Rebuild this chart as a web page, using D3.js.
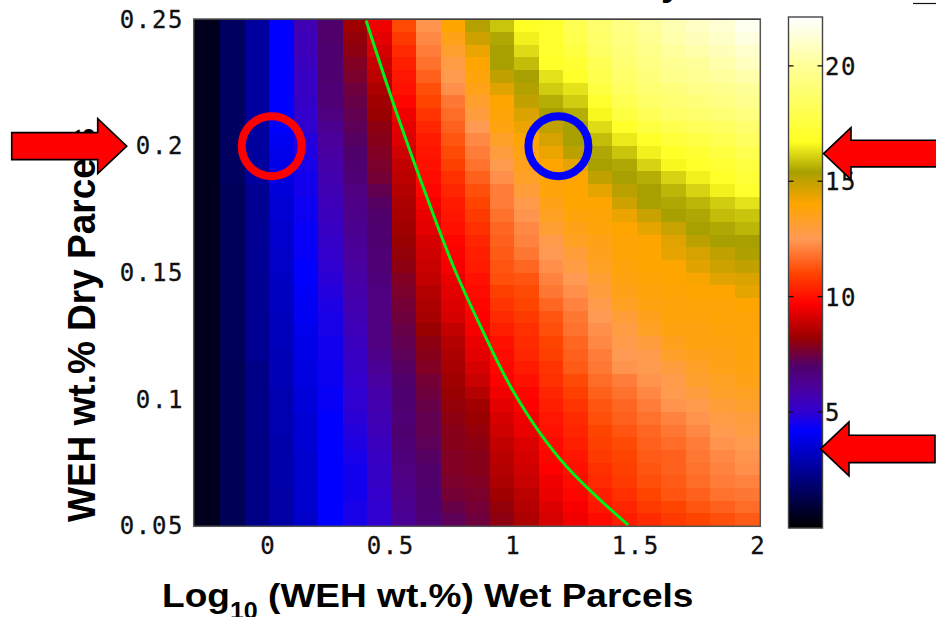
<!DOCTYPE html>
<html><head><meta charset="utf-8">
<script src="https://cdn.jsdelivr.net/npm/d3@7"></script>
<style>html,body{margin:0;padding:0;background:#fff}svg{display:block}</style>
</head><body><svg id="c" width="936" height="617"></svg>
<script>
const xTicks = [0, 0.5, 1, 1.5, 2];
const yTicks = [0.05, 0.1, 0.15, 0.2, 0.25];
const barTicks = [5, 10, 15, 20];
const xEdgeStart = -0.3, xEdgeStep = 0.1;
const yEdgeTop = 0.25, yEdgeStep = 0.005;
const colorStops = [0, 4.2, 5, 6, 7, 8.2, 9.7, 11, 12.5, 14, 15.4, 16.7, 20, 22.1];
const colorValues = ["#000000","#0000ff","#3000d0","#4a00a0","#50006a","#990000","#ff0000","#ff4400","#ff9a55","#ffa500","#a8a000","#ffff22","#ffff99","#ffffff"];
// rows run from y = 0.25 (top) down to y = 0.05; columns from x = -0.3 to x = 2
const cellValues = [
[.5,1.6,2.6,4.2,5.6,7.0,8.3,9.5,11.1,12.4,14.0,15.2,15.9,16.8,17.0,18.0,18.8,19.4,20.0,20.5,20.9,21.2,21.8],
[.5,1.6,2.6,4.2,5.5,7.0,8.1,9.3,10.8,12.2,13.6,14.8,15.5,16.5,17.0,17.9,18.7,19.3,19.8,20.4,20.7,21.0,21.5],
[.5,1.6,2.6,4.2,5.5,6.9,8.0,9.1,10.5,12.0,13.2,14.3,15.4,16.2,17.0,17.6,18.5,19.1,19.6,20.1,20.4,20.7,21.1],
[.5,1.6,2.6,4.2,5.4,6.9,7.8,8.9,10.3,11.8,12.8,14.0,15.4,15.8,16.9,17.2,18.1,18.9,19.4,19.8,20.0,20.4,20.8],
[.5,1.6,2.6,4.2,5.3,6.9,7.7,8.7,10.1,11.5,12.6,13.8,15.0,15.4,16.3,16.9,17.9,18.7,19.2,19.6,19.8,20.1,20.4],
[.5,1.6,2.6,4.2,5.3,6.8,7.5,8.5,10.0,11.2,12.3,13.6,14.5,15.2,16.0,16.3,17.6,18.4,18.9,19.2,19.5,19.7,20.0],
[.5,1.6,2.6,4.2,5.2,6.8,7.4,8.3,9.8,11.0,11.9,13.2,14.0,15.0,15.6,16.0,17.0,18.0,18.6,18.9,19.1,19.4,19.7],
[.5,1.6,2.6,4.2,5.1,6.6,7.3,8.2,9.5,10.7,11.7,12.9,13.9,14.6,15.4,15.6,16.6,17.6,18.2,18.6,18.8,19.0,19.3],
[.5,1.6,2.6,4.2,5.0,6.3,7.2,8.0,9.3,10.4,11.5,12.5,13.7,14.3,15.0,15.4,16.2,16.9,17.6,17.9,18.2,18.4,18.8],
[.5,1.6,2.6,4.0,4.8,6.1,7.1,7.9,9.2,10.2,11.3,12.2,13.3,14.0,14.7,15.4,15.8,16.4,16.9,17.4,17.7,18.0,18.4],
[.5,1.6,2.6,3.9,4.7,6.0,7.0,7.8,9.0,10.1,11.1,12.0,12.9,13.7,14.3,15.1,15.5,15.9,16.5,16.9,17.2,17.6,18.0],
[.5,1.6,2.6,3.8,4.6,5.8,6.9,7.7,8.8,10.0,10.9,11.8,12.6,13.5,14.0,14.4,15.4,15.5,16.1,16.6,16.9,17.2,17.6],
[.5,1.6,2.6,3.7,4.5,5.7,6.8,7.6,8.7,9.9,10.6,11.5,12.3,13.3,13.9,14.0,15.0,15.4,15.6,16.1,16.5,16.9,17.3],
[.5,1.5,2.4,3.6,4.5,5.6,6.6,7.3,8.6,9.8,10.4,11.2,12.0,13.0,13.8,14.0,14.4,15.1,15.4,15.7,16.1,16.5,17.0],
[.5,1.5,2.4,3.5,4.4,5.5,6.5,7.1,8.5,9.6,10.2,11.0,12.0,12.7,13.6,14.0,14.0,14.8,15.4,15.5,15.7,16.0,16.3],
[.5,1.5,2.4,3.5,4.4,5.4,6.4,7.0,8.4,9.4,10.1,10.8,11.8,12.4,13.4,13.8,13.9,14.3,14.9,15.4,15.5,15.8,15.9],
[.5,1.5,2.4,3.4,4.3,5.3,6.3,6.9,8.3,9.3,10.0,10.6,11.6,12.2,13.1,13.6,13.8,14.0,14.4,14.9,15.4,15.5,15.7],
[.5,1.5,2.4,3.4,4.3,5.2,6.2,6.9,8.2,9.1,9.8,10.4,11.5,12.1,12.7,13.4,13.6,13.9,14.0,14.5,15.1,15.4,15.4],
[.5,1.5,2.4,3.3,4.3,5.1,6.1,6.8,8.1,9.0,9.7,10.3,11.4,11.9,12.5,13.0,13.5,13.9,14.0,14.4,14.7,15.0,15.3],
[.5,1.5,2.4,3.3,4.2,5.0,6.0,6.8,8.0,8.9,9.6,10.2,11.3,11.6,12.3,12.8,13.4,13.8,14.0,14.0,14.5,14.8,15.0],
[.5,1.5,2.4,3.2,4.2,4.9,5.9,6.7,7.8,8.8,9.4,10.0,11.2,11.3,12.1,12.5,13.1,13.7,13.9,14.0,14.1,14.5,14.6],
[.5,1.5,2.4,3.2,4.1,4.8,5.8,6.6,7.7,8.6,9.3,9.9,10.9,11.1,11.9,12.3,12.9,13.6,13.8,13.9,14.0,14.0,14.4],
[.5,1.5,2.4,3.2,4.0,4.7,5.7,6.6,7.6,8.5,9.2,9.8,10.7,11.0,11.6,12.1,12.7,13.4,13.7,13.8,13.9,13.9,14.0],
[.5,1.5,2.4,3.1,4.0,4.6,5.6,6.6,7.5,8.4,9.1,9.7,10.5,10.8,11.3,11.9,12.5,13.0,13.5,13.8,13.8,13.9,13.9],
[.5,1.5,2.4,3.1,3.9,4.6,5.5,6.6,7.4,8.2,8.8,9.6,10.3,10.6,11.2,11.8,12.3,12.8,13.4,13.7,13.7,13.8,13.9],
[.5,1.5,2.4,3.1,3.8,4.5,5.4,6.6,7.3,8.0,8.6,9.4,10.0,10.5,11.0,11.6,12.2,12.7,12.9,13.5,13.7,13.7,13.8],
[.5,1.5,2.4,3.0,3.8,4.5,5.3,6.4,7.2,7.9,8.5,9.3,9.9,10.4,10.9,11.5,12.0,12.5,12.7,13.3,13.5,13.6,13.8],
[.5,1.4,2.2,3.0,3.7,4.4,5.2,6.2,7.1,7.8,8.4,9.1,9.8,10.2,10.7,11.4,11.9,12.4,12.6,12.9,13.3,13.6,13.7],
[.5,1.4,2.2,3.0,3.7,4.4,5.1,6.0,7.0,7.6,8.3,8.9,9.7,10.0,10.6,11.1,11.7,12.0,12.4,12.7,13.2,13.4,13.6],
[.5,1.4,2.2,2.9,3.6,4.3,5.0,5.8,6.9,7.5,8.2,8.6,9.5,9.8,10.4,10.9,11.5,11.8,12.2,12.6,12.9,13.3,13.4],
[.5,1.4,2.2,2.9,3.6,4.3,5.0,5.7,6.9,7.4,8.1,8.3,9.3,9.7,10.3,10.7,11.3,11.6,12.0,12.4,12.7,13.0,13.2],
[.5,1.4,2.2,2.9,3.5,4.2,4.9,5.6,6.8,7.3,8.0,8.2,9.1,9.5,10.1,10.5,11.2,11.5,11.8,12.1,12.4,12.8,12.9],
[.5,1.4,2.2,2.9,3.5,4.2,4.8,5.5,6.9,7.3,7.9,8.1,9.0,9.4,10.0,10.4,11.0,11.3,11.6,11.9,12.2,12.6,12.8],
[.5,1.4,2.2,2.8,3.5,4.2,4.7,5.4,6.8,7.2,7.9,8.0,8.8,9.2,9.9,10.3,10.9,11.1,11.5,11.7,12.0,12.4,12.6],
[.5,1.4,2.2,2.8,3.4,4.2,4.6,5.3,6.7,7.1,7.8,7.9,8.7,9.1,9.8,10.1,10.8,11.0,11.4,11.5,11.9,12.2,12.4],
[.5,1.4,2.2,2.8,3.4,4.2,4.5,5.2,6.6,7.0,7.8,7.9,8.6,9.0,9.7,10.0,10.6,10.9,11.3,11.5,11.8,12.1,12.3],
[.5,1.4,2.2,2.8,3.4,4.2,4.5,5.2,6.5,7.0,7.7,7.8,8.5,8.9,9.5,9.9,10.5,10.8,11.2,11.4,11.7,12.0,12.1],
[.5,1.4,2.2,2.7,3.4,4.2,4.5,5.1,6.4,6.9,7.6,7.7,8.3,8.7,9.4,9.8,10.3,10.6,11.0,11.3,11.5,11.8,11.9],
[.5,1.4,2.2,2.7,3.4,4.2,4.6,5.0,6.3,6.9,7.4,7.6,8.1,8.6,9.2,9.6,10.1,10.4,10.8,11.0,11.3,11.5,11.7],
[.5,1.4,2.2,2.7,3.3,4.2,4.6,5.0,6.2,6.8,7.2,7.5,8.0,8.5,9.1,9.5,9.9,10.2,10.5,10.8,11.0,11.2,11.4]
];
const contourX = [0.395, 0.52, 0.648, 0.758, 0.86, 0.995, 1.105, 1.215, 1.338, 1.465];
const contourY = [0.2496, 0.213, 0.1786, 0.151, 0.1293, 0.1033, 0.0867, 0.0733, 0.0614, 0.0504];
const circleX = [0.0098, 1.18];
const circleY = [0.2, 0.2];
const circleColors = ["#ff0000", "#0000ff"];
const arrowBarValues = [16.2, 3.4];

const svg = d3.select("#c");
const x = d3.scaleLinear().domain([-0.3, 2]).range([195.8, 759.3]);
const y = d3.scaleLinear().domain([0.05, 0.25]).range([526, 19.5]);
const color = d3.scaleLinear().domain(colorStops).range(colorValues).clamp(true);
const barY = d3.scaleLinear().domain([0, 22.1]).range([527.4, 17.4]);
const barL = 788.5, barR = 822.5, barT = 17, barB = 528;
const mono = "'DejaVu Sans Mono', monospace", sans = "'Liberation Sans', Arial, sans-serif";

// heat map
svg.append("rect").attr("x",193.5).attr("y",19).attr("width",567).attr("height",507.5).attr("fill","#000");
const cells = cellValues.flatMap((r,i)=>r.map((v,j)=>({i,j,v})));
svg.append("g").attr("shape-rendering","crispEdges").selectAll("rect").data(cells).join("rect")
  .attr("x",d=>x(xEdgeStart+d.j*xEdgeStep))
  .attr("y",d=>y(yEdgeTop-d.i*yEdgeStep))
  .attr("width",d=>x(xEdgeStart+(d.j+1)*xEdgeStep)-x(xEdgeStart+d.j*xEdgeStep)+.6)
  .attr("height",d=>y(yEdgeTop-(d.i+1)*yEdgeStep)-y(yEdgeTop-d.i*yEdgeStep)+.6)
  .attr("fill",d=>color(d.v));
svg.append("rect").attr("x",193.7).attr("y",19).attr("width",566.6).attr("height",507.3)
  .attr("fill","none").attr("stroke","#555").attr("stroke-width",1.5);

// contour
const pts = contourX.map((v,i)=>[x(v),y(contourY[i])]);
svg.append("path").attr("d",d3.line().curve(d3.curveMonotoneY)(pts.slice().reverse()))
  .attr("fill","none").attr("stroke","#00f01a").attr("stroke-width",3);

// circles
svg.append("g").selectAll("circle").data(circleX).join("circle")
  .attr("cx",d=>x(d)).attr("cy",(d,i)=>y(circleY[i])).attr("r",30)
  .attr("fill","none").attr("stroke-width",8).attr("stroke",(d,i)=>circleColors[i]);

// axes
const ax = svg.append("g").attr("transform","translate(-1.5,526)")
  .call(d3.axisBottom(x).tickValues(xTicks).tickSize(0).tickPadding(11).tickFormat(String));
ax.select(".domain").remove();
const ay = svg.append("g").attr("transform","translate(193,0)")
  .call(d3.axisLeft(y).tickValues(yTicks).tickSize(0).tickPadding(9).tickFormat(String));
ay.select(".domain").remove();
svg.selectAll("g text").attr("font-family",mono).attr("font-size",24).attr("fill","#111").attr("letter-spacing",1.6).attr("stroke","#111").attr("stroke-width",0.3);

// axis titles
const xt = svg.append("text").attr("transform","translate(162,606.5) scale(1.09,1)")
  .attr("font-family",sans).attr("font-weight","bold").attr("font-size",34).attr("fill","#000");
xt.append("tspan").text("Log");
xt.append("tspan").attr("font-size",23).attr("dy",12).text("10");
xt.append("tspan").attr("dy",-12).text(" (WEH wt.%) Wet Parcels");
svg.append("text").attr("transform","translate(95,522) rotate(-90) scale(1,1.05)")
  .attr("font-family",sans).attr("font-weight","bold").attr("font-size",37).attr("fill","#000")
  .text("WEH wt.% Dry Parcels");

// colour bar
const barStrip = d3.range(barT, barB);
svg.append("g").selectAll("rect").data(barStrip).join("rect")
  .attr("x",barL).attr("y",d=>d).attr("width",barR-barL).attr("height",1.2)
  .attr("fill",d=>color(barY.invert(d+.5)));
svg.append("rect").attr("x",barL).attr("y",barT).attr("width",barR-barL).attr("height",barB-barT)
  .attr("fill","none").attr("stroke","#444").attr("stroke-width",1.4);
const bt = svg.append("g").selectAll("g").data(barTicks).join("g");
bt.append("line").attr("x1",barL).attr("x2",barL+5).attr("y1",d=>barY(d)).attr("y2",d=>barY(d)).attr("stroke","#111").attr("stroke-width",1.3);
bt.append("line").attr("x1",barR-5).attr("x2",barR).attr("y1",d=>barY(d)).attr("y2",d=>barY(d)).attr("stroke","#111").attr("stroke-width",1.3);
bt.append("text").attr("x",barR+2.5).attr("y",d=>barY(d)+9).attr("font-family",mono).attr("font-size",24).attr("letter-spacing",1.6).attr("fill","#111").attr("stroke","#111").attr("stroke-width",0.3).text(d=>d);

// arrows
const arrowPath = (tip,cy,headLen,halfHead,halfBody,len) => {
  const s = Math.sign(len);
  return d3.line()([[tip,cy],[tip+s*headLen,cy-halfHead],[tip+s*headLen,cy-halfBody],[tip+len,cy-halfBody],[tip+len,cy+halfBody],[tip+s*headLen,cy+halfBody],[tip+s*headLen,cy+halfHead]])+"Z";
};
const arrows = [
  arrowPath(126.7,y(0.2),29,27.5,13.5,-115),
  arrowPath(823.5,barY(arrowBarValues[0]),27.5,26,13.3,115),
  arrowPath(820.5,barY(arrowBarValues[1]),28.5,27,13.7,114.5)
];
svg.append("g").selectAll("path").data(arrows).join("path").attr("d",d=>d)
  .attr("fill","#ff0000").attr("stroke","#000").attr("stroke-width",1.6);

// remnants cropped at the top of the picture
svg.append("text").attr("x",661).attr("y",-5).attr("font-family",sans).attr("font-weight","bold").attr("font-size",37).text("y");
svg.append("line").attr("x1",913).attr("x2",936).attr("y1",3.5).attr("y2",3.5).attr("stroke","#111").attr("stroke-width",1.2);
</script></body></html>
